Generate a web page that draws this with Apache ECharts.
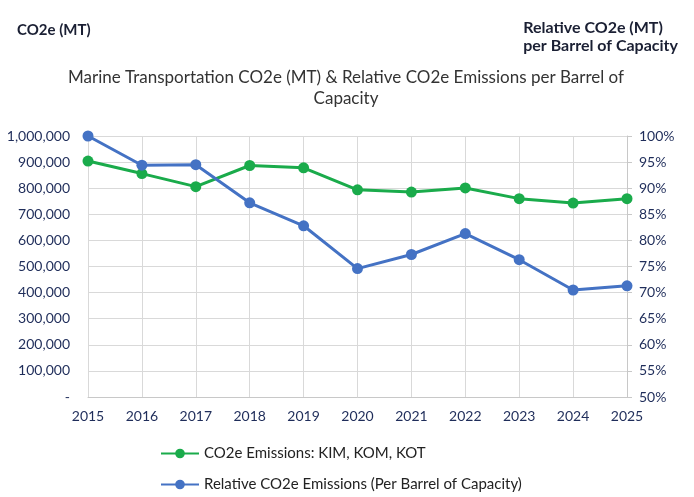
<!DOCTYPE html>
<html>
<head>
    <meta charset="utf-8">
    <script src="https://cdn.jsdelivr.net/npm/echarts@6/dist/echarts.min.js"></script>
</head>
<style>
    *{ margin:0; padding:0; }
    body{ background:#fff; }
</style>
<body>
<div id="main" style="width:694px;height:497px;"></div>
<script type="text/javascript">
    // data
    var years = ['2015','2016','2017','2018','2019','2020','2021','2022','2023','2024','2025'];
    var emissions = [904000, 856000, 806000, 887000, 878000, 794000, 785000, 801000, 760000, 743000, 760000];
    var relative = [100, 94.4, 94.5, 87.2, 82.8, 74.6, 77.3, 81.3, 76.3, 70.5, 71.3];

    var navy = '#1f2d5a';
    var font = 'Lato, "Open Sans", sans-serif';

    var chart = echarts.init(document.getElementById('main'));

    var option = {
        animation: false,
        textStyle: { fontFamily: font },
        title: [
            { text: 'Marine Transportation CO2e (MT) & Relative CO2e Emissions per Barrel of\nCapacity',
              left: 341, top: 62, textAlign: 'center',
              textStyle: { fontSize: 17, fontWeight: 'normal', color: '#333', lineHeight: 21, fontFamily: font } }
        ],
        // axis names sit above the plot, like in the source
        graphic: [
            { type: 'text', left: 17, top: 23,
              style: { text: 'CO2e (MT)', font: 'bold 15px ' + font, fill: '#1a1f33' } },
            { type: 'text', right: 16, top: 19,
              style: { text: 'Relative CO2e (MT)\nper Barrel of Capacity', font: 'bold 16px ' + font,
                       fill: '#1a1f33', align: 'right', lineHeight: 18 } }
        ],
        legend: {
            orient: 'vertical',
            left: 160, top: 446, height: 50,
            padding: 0,
            itemGap: 16,
            itemWidth: 38, itemHeight: 12,
            textStyle: { fontSize: 15, color: '#222', fontFamily: font },
            data: ['CO2e Emissions: KIM, KOM, KOT', 'Relative CO2e Emissions (Per Barrel of Capacity)']
        },
        grid: { left: 88, right: 67, top: 136, bottom: 100 },
        xAxis: {
            type: 'category',
            data: years,
            boundaryGap: false,
            axisLine: { lineStyle: { color: '#c8c8c8' } },
            axisTick: { show: false },
            splitLine: { show: true, lineStyle: { color: '#d9d9d9' } },
            axisLabel: { color: navy, fontSize: 14, margin: 12 }
        },
        yAxis: [
            {
                type: 'value', min: 0, max: 1000000, interval: 100000,
                axisLine: { show: false },
                axisTick: { show: false },
                splitLine: { lineStyle: { color: '#d9d9d9' } },
                axisLabel: {
                    color: navy, fontSize: 14, margin: 18,
                    formatter: function (v) { return v === 0 ? '-' : v.toLocaleString('en-US'); }
                }
            },
            {
                type: 'value', min: 50, max: 100, interval: 5,
                position: 'right',
                axisLine: { show: true, lineStyle: { color: '#c8c8c8' } },
                axisTick: { show: true, length: 5, lineStyle: { color: '#c8c8c8' } },
                splitLine: { show: false },
                axisLabel: { color: navy, fontSize: 14, margin: 12, formatter: '{value}%' }
            }
        ],
        series: [
            {
                name: 'CO2e Emissions: KIM, KOM, KOT',
                type: 'line',
                yAxisIndex: 0,
                data: emissions,
                symbol: 'circle', symbolSize: 11,
                lineStyle: { width: 3, color: '#1aab4b' },
                itemStyle: { color: '#1aab4b' }
            },
            {
                name: 'Relative CO2e Emissions (Per Barrel of Capacity)',
                type: 'line',
                yAxisIndex: 1,
                data: relative,
                symbol: 'circle', symbolSize: 11,
                lineStyle: { width: 3, color: '#4472c4' },
                itemStyle: { color: '#4472c4' }
            }
        ]
    };

    chart.setOption(option);
</script>
</body>
</html>
